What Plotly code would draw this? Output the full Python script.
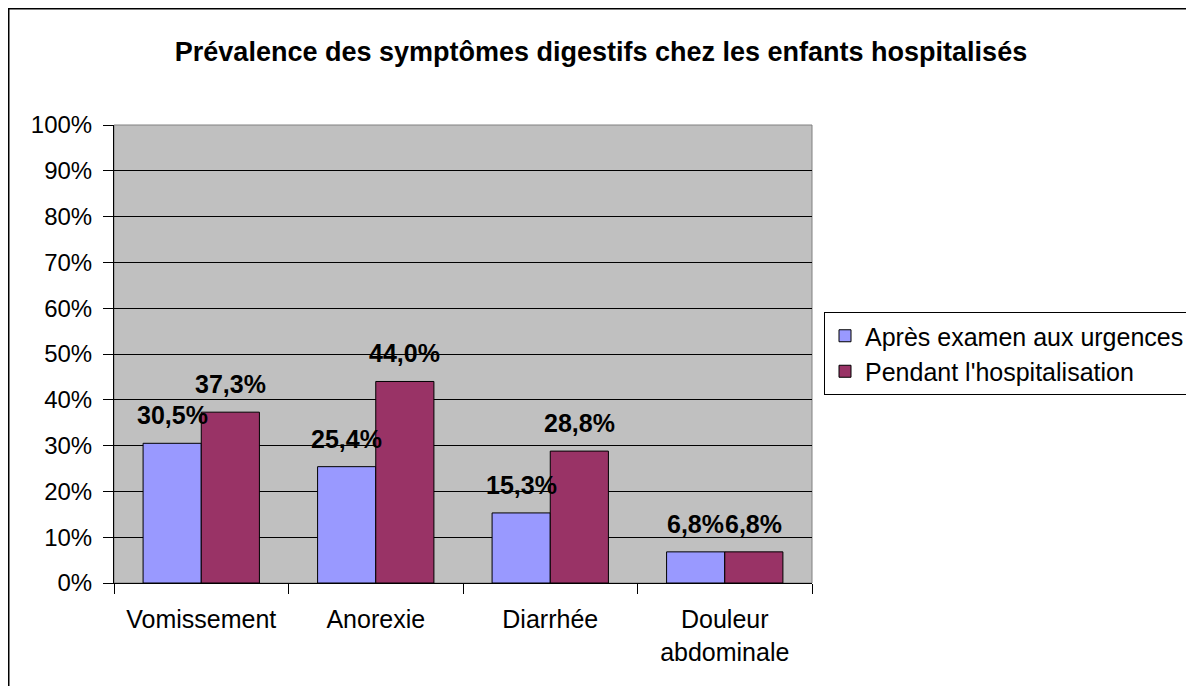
import plotly.graph_objects as go

categories = ["Vomissement", "Anorexie", "Diarrhée", "Douleur<br>abdominale"]
series_names = ["Après examen aux urgences", "Pendant l'hospitalisation"]
apres_urgences = [0.305, 0.254, 0.153, 0.068]
pendant_hospit = [0.373, 0.440, 0.288, 0.068]
label_apres = ["30,5%", "25,4%", "15,3%", "6,8%"]
label_pendant = ["37,3%", "44,0%", "28,8%", "6,8%"]

# the page adds an 8px body margin, so the figure is drawn 8px smaller
OFF = 8
PAGE_W, PAGE_H = 1194, 686
W, H = PAGE_W - OFF, PAGE_H - OFF

# plot area in page pixels
X0, X1, Y0, Y1 = 114, 812, 125, 583
plot_w = X1 - X0
plot_h = Y1 - Y0
bargap = 1 / 3
bar_px = plot_w / len(categories) * (1 - bargap) / 2

FONT = "Liberation Sans, Arial, sans-serif"


def px_x(p):
    return (p - X0) / plot_w


def px_y(p):
    return (Y1 - p) / plot_h


fig = go.Figure()
fig.add_trace(go.Bar(x=categories, y=apres_urgences, name=series_names[0],
                     marker=dict(color="#9999FF", line=dict(color="black", width=1))))
fig.add_trace(go.Bar(x=categories, y=pendant_hospit, name=series_names[1],
                     marker=dict(color="#993366", line=dict(color="black", width=1))))

# data labels above each bar
annotations = []
for vals, labels, shift in [(apres_urgences, label_apres, -bar_px / 2),
                            (pendant_hospit, label_pendant, bar_px / 2)]:
    for c, v, t in zip(categories, vals, labels):
        annotations.append(dict(x=c, y=v, text=t, showarrow=False, xshift=shift,
                                yshift=28, yanchor="middle", xanchor="center",
                                font=dict(family=FONT, size=25, color="black", weight="bold")))

fig.update_layout(
    width=W, height=H,
    margin=dict(l=X0 - OFF, r=PAGE_W - X1, t=Y0 - OFF, b=PAGE_H - Y1, pad=0,
                autoexpand=False),
    paper_bgcolor="white",
    plot_bgcolor="#C0C0C0",
    barmode="group",
    bargap=bargap,
    bargroupgap=0,
    font=dict(family=FONT, color="black", size=24),
    title=dict(text="<b>Prévalence des symptômes digestifs chez les enfants hospitalisés</b>",
               x=(601 - OFF) / W, xref="container", xanchor="center",
               y=1 - (52 - OFF) / H, yref="container", yanchor="middle",
               font=dict(family=FONT, size=27, color="black")),
    legend=dict(x=px_x(824), y=px_y(312), xanchor="left", yanchor="top",
                bordercolor="black", borderwidth=1, bgcolor="white",
                font=dict(family=FONT, size=25, color="black"),
                tracegroupgap=0),
    annotations=annotations,
    shapes=[
        dict(type="rect", xref="paper", yref="paper", x0=0, x1=1, y0=0, y1=1,
             line=dict(color="#808080", width=1), layer="below"),
        dict(type="rect", xref="paper", yref="paper",
             x0=px_x(OFF + 0.5), x1=px_x(1250), y0=px_y(750), y1=px_y(OFF + 0.5),
             line=dict(color="black", width=2), layer="above"),
    ],
    showlegend=True,
)

fig.update_xaxes(
    type="category", showline=True, linecolor="black", linewidth=1,
    ticks="outside", ticklen=10, tickcolor="black", tickson="boundaries",
    showgrid=False, tickfont=dict(size=25), ticklabelstandoff=14, automargin=False,
)
fig.update_yaxes(
    range=[0, 1], dtick=0.1, tickformat=".0%",
    showline=True, linecolor="black", linewidth=1,
    ticks="outside", ticklen=10, tickcolor="black",
    showgrid=True, gridcolor="black", gridwidth=1, zeroline=False,
    tickfont=dict(size=24), ticklabelstandoff=6, automargin=False,
)

fig.write_html("out.html")
